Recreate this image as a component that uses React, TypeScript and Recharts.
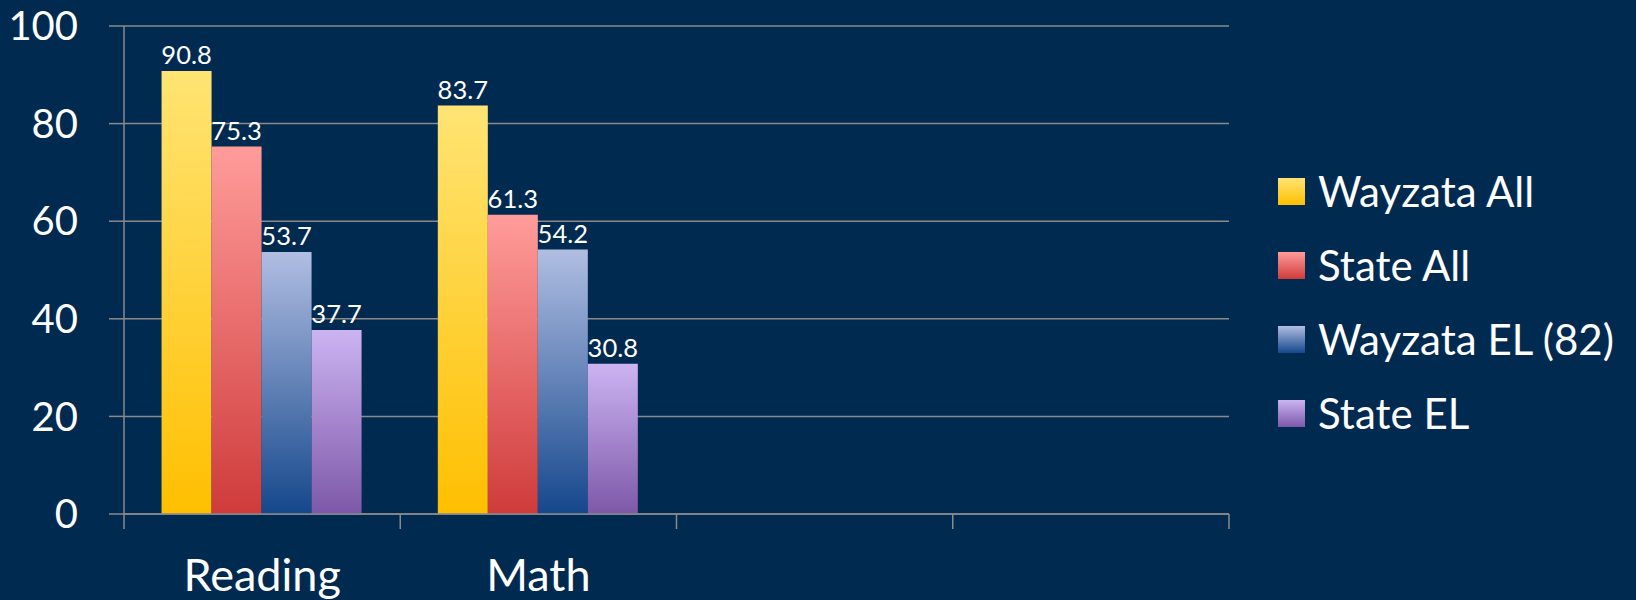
import React from 'react';
import {
  BarChart, Bar, XAxis, YAxis, CartesianGrid,
} from 'recharts';

const categories = ['Reading', 'Math', '', ''];
const wayzataAll = [90.8, 83.7, null, null];
const stateAll   = [75.3, 61.3, null, null];
const wayzataEL  = [53.7, 54.2, null, null];
const stateEL    = [37.7, 30.8, null, null];
const yTicks     = [0, 20, 40, 60, 80, 100];

const series = [
  { key: 'wayzataAll', name: 'Wayzata All',     top: '#ffe474', bottom: '#ffbf00' },
  { key: 'stateAll',   name: 'State All',       top: '#ff9c9a', bottom: '#cf3b3b' },
  { key: 'wayzataEL',  name: 'Wayzata EL (82)', top: '#b0bee2', bottom: '#15478c' },
  { key: 'stateEL',    name: 'State EL',        top: '#ccb4f2', bottom: '#7d58a8' },
];

const data = categories.map((label, i) => ({
  slot: i,
  label,
  wayzataAll: wayzataAll[i],
  stateAll: stateAll[i],
  wayzataEL: wayzataEL[i],
  stateEL: stateEL[i],
}));

const BG      = '#012a51';
const GRID    = '#8a8a8a';
const FONT    = 'Lato, "Open Sans", sans-serif';
const W       = 1636;
const H       = 600;
const LEFT    = 124;
const RIGHT   = 407;
const BAND    = (W - LEFT - RIGHT) / categories.length;

// eslint-disable-next-line @typescript-eslint/no-explicit-any
function CategoryTick({ x, y, payload }: any) {
  const i = payload.index;
  const left = x - BAND / 2;
  return (
    <g>
      <line x1={left} x2={left} y1={y} y2={y + 15} stroke={GRID} strokeWidth={1.5} />
      {i === categories.length - 1 && (
        <line x1={x + BAND / 2} x2={x + BAND / 2} y1={y} y2={y + 15} stroke={GRID} strokeWidth={1.5} />
      )}
      <text x={x} y={y + 77} textAnchor="middle" fill="#fff" fontSize={45} fontFamily={FONT}>
        {categories[i]}
      </text>
    </g>
  );
}

// eslint-disable-next-line @typescript-eslint/no-explicit-any
function ValueLabel({ x, y, width, value }: any) {
  if (value == null) return null;
  return (
    <text x={x + width / 2} y={y - 7} textAnchor="middle" fill="#fff" fontSize={25.5} fontFamily={FONT}>
      {value}
    </text>
  );
}

function LegendBox() {
  return (
    <div style={{ position: 'absolute', left: 1278, top: 154, fontFamily: FONT }}>
      {series.map(s => (
        <div key={s.key} style={{ display: 'flex', alignItems: 'center', height: 74 }}>
          <span
            style={{
              width: 27, height: 27, marginRight: 13,
              background: `linear-gradient(${s.top}, ${s.bottom})`,
            }}
          />
          <span style={{ color: '#fff', fontSize: 42, whiteSpace: 'nowrap' }}>{s.name}</span>
        </div>
      ))}
    </div>
  );
}

export default function App() {
  return (
    <div style={{ position: 'absolute', left: 0, top: 0, width: W, height: H, background: BG }}>
      <BarChart
        width={W}
        height={H}
        data={data}
        margin={{ top: 26, right: RIGHT, bottom: 0, left: 0 }}
        barCategoryGap="13.6%"
        barGap={0}
      >
        <defs>
          {series.map(s => (
            <linearGradient key={s.key} id={`grad-${s.key}`} x1="0" y1="0" x2="0" y2="1">
              <stop offset="0%" stopColor={s.top} />
              <stop offset="100%" stopColor={s.bottom} />
            </linearGradient>
          ))}
        </defs>

        <CartesianGrid vertical={false} stroke={GRID} strokeWidth={1.5} />

        <XAxis
          dataKey="slot"
          type="category"
          height={86}
          axisLine={{ stroke: GRID, strokeWidth: 1.5 }}
          tickLine={false}
          tickSize={0}
          tickMargin={0}
          interval={0}
          tick={<CategoryTick />}
        />
        <YAxis
          domain={[0, 100]}
          ticks={yTicks}
          interval={0}
          width={LEFT}
          axisLine={{ stroke: GRID, strokeWidth: 1.5 }}
          tickLine={{ stroke: GRID, strokeWidth: 1.5 }}
          tickSize={15}
          tickMargin={31}
          tick={{ fill: '#fff', fontSize: 40, fontFamily: FONT }}
        />

        {series.map(s => (
          <Bar
            key={s.key}
            dataKey={s.key}
            name={s.name}
            fill={`url(#grad-${s.key})`}
            label={<ValueLabel />}
            isAnimationActive={false}
          />
        ))}
      </BarChart>
      <LegendBox />
    </div>
  );
}
